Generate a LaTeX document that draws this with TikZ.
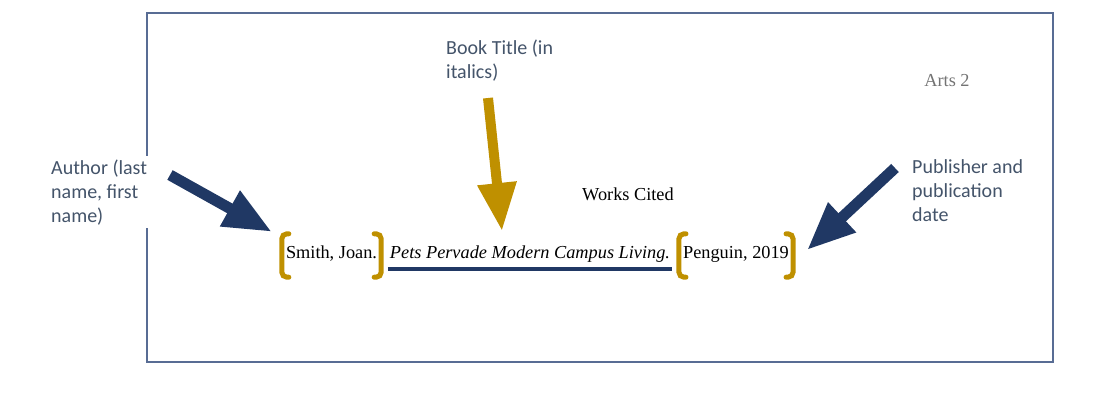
\documentclass[tikz,border=0pt]{standalone}
\usepackage{fontspec}
\setmainfont{Liberation Serif}
\newfontfamily\labelfont{Carlito}
\usetikzlibrary{arrows.meta,positioning}

\definecolor{navyblue}{RGB}{32,56,100}
\definecolor{darkgold}{RGB}{191,144,0}
\definecolor{labeltext}{RGB}{68,84,106}
\definecolor{framecol}{RGB}{88,108,148}

\begin{document}
\begin{tikzpicture}[x=1pt,y=-1pt]
\tikzset{
  callout/.style={anchor=base west,inner sep=3pt,text width=#1,align=flush left,fill=white,
    text=labeltext,font=\labelfont\fontsize{20}{24}\selectfont},
  citepart/.style={anchor=base,inner sep=0pt,font=\fontsize{18.3}{22}\selectfont},
  bracketed/.style={inner xsep=4pt,text height=24pt,text depth=19pt},
  navyarrow/.style={-{Triangle[length=48pt,width=38pt]},line width=11pt,draw=navyblue},
  goldarrow/.style={-{Triangle[length=48pt,width=37pt]},line width=10pt,draw=darkgold},
  goldbracket/.style={draw=darkgold,line width=5pt,rounded corners=5pt,line cap=round},
  titleline/.style={draw=navyblue,line width=4pt}
}
\useasboundingbox (0,0) rectangle (1097,407);
% page
\draw[framecol,line width=1.4pt] (147,13) rectangle (1053,362);
\node[citepart,text=black!55] (n_page) at (947,86) {Arts 2};
\node[citepart] (n_head) at (628,200) {Works Cited};
% citation
\node[citepart,bracketed] (n_author) at (331.5,258) {Smith, Joan.};
\node[citepart,inner xsep=2pt,text depth=11pt] (n_title) at (530,258) {\itshape Pets Pervade Modern Campus Living.};
\node[citepart,bracketed] (n_pub) at (736,258) {Penguin, 2019};
\draw[titleline] (n_title.south west) -- (n_title.south east);
\foreach \n in {n_author,n_pub}{
  \draw[goldbracket] ([xshift=7pt]\n.north west) -- (\n.north west) -- (\n.south west) -- ([xshift=7pt]\n.south west);
  \draw[goldbracket] ([xshift=-7pt]\n.north east) -- (\n.north east) -- (\n.south east) -- ([xshift=-7pt]\n.south east);
}
% callouts
\node[callout=100pt] (l_author) at (48,174) {Author (last name, first name)};
\node[callout=130pt] (l_title) at (443,54) {Book Title (in italics)};
\node[callout=125pt] (l_pub) at (909,173) {Publisher and publication date};
\coordinate (t_author) at (170,175);
\coordinate (t_title) at (488,98);
\coordinate (t_pub) at (895,168);
\coordinate (h_title) at (502,231);
\draw[navyarrow] (t_author) -- ([shift={(-10pt,2pt)}]n_author.north west);
\draw[goldarrow] (t_title) -- (h_title);
\draw[navyarrow] (t_pub) -- ([shift={(14pt,5.5pt)}]n_pub.east);
\end{tikzpicture}
\end{document}
